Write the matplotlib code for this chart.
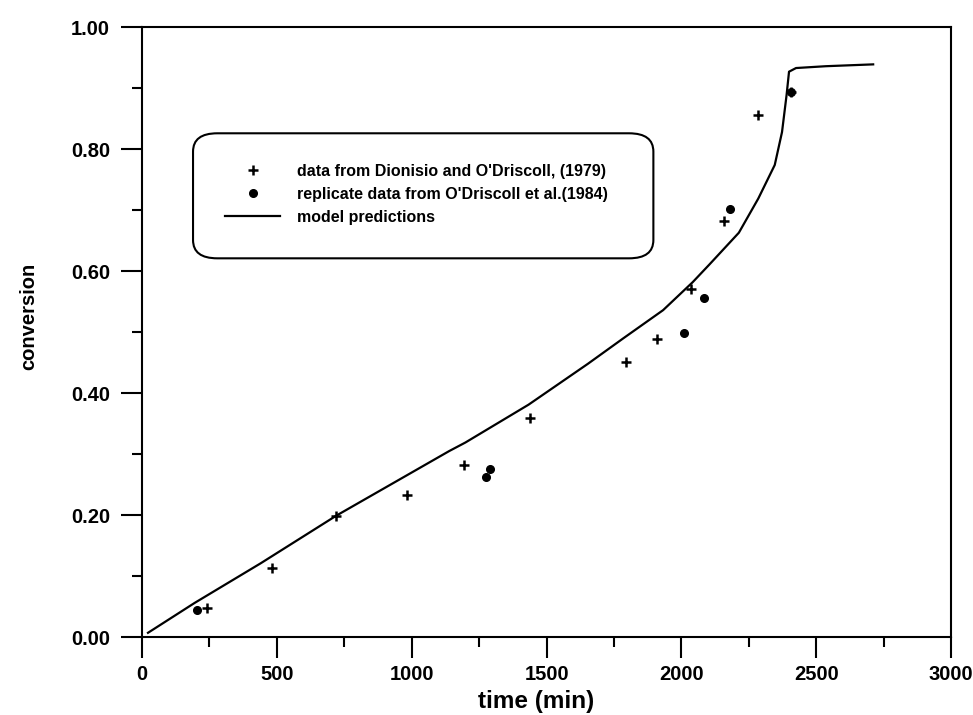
import numpy as np
import matplotlib
matplotlib.use("Agg")
import matplotlib.pyplot as plt
from matplotlib.patches import FancyBboxPatch
from matplotlib.ticker import MultipleLocator, FormatStrFormatter

plt.rcParams['font.family'] = ['Liberation Sans', 'DejaVu Sans']
plt.rcParams['font.weight'] = 'bold'

# data from Dionisio and O'Driscoll (1979)
dion_t = [240, 482, 720, 982, 1192, 1437, 1794, 1911, 2034, 2159, 2283, 2405]
dion_x = [0.048, 0.114, 0.198, 0.233, 0.282, 0.360, 0.451, 0.488, 0.571, 0.683, 0.856, 0.894]

# replicate data from O'Driscoll et al. (1984)
rep_t = [202, 1274, 1289, 2011, 2084, 2179, 2405]
rep_x = [0.044, 0.263, 0.276, 0.499, 0.556, 0.702, 0.894]

# model predictions
model_t = [22, 195, 440, 720, 1139, 1199, 1433, 1653, 1785, 1932, 2042, 2104,
           2213, 2285, 2346, 2373, 2390, 2399, 2425, 2536, 2711]
model_x = [0.007, 0.056, 0.121, 0.199, 0.305, 0.319, 0.381, 0.448, 0.490, 0.536,
           0.582, 0.611, 0.663, 0.719, 0.774, 0.828, 0.889, 0.927, 0.933, 0.936, 0.939]

fig = plt.figure(figsize=(9.73, 7.15), dpi=100)
ax = fig.add_axes([0.146, 0.109, 0.8315, 0.853])

ax.plot(model_t, model_x, color='black', lw=1.6, label='model predictions')
ax.plot(dion_t, dion_x, ls='none', marker='+', ms=7, mew=1.8, color='black',
        label="data from Dionisio and O'Driscoll, (1979)")
ax.plot(rep_t, rep_x, ls='none', marker='o', ms=5.5, color='black',
        label="replicate data from O'Driscoll et al.(1984)")

ax.set_xlim(0, 3000)
ax.set_ylim(0, 1.0)
ax.xaxis.set_major_locator(MultipleLocator(500))
ax.xaxis.set_minor_locator(MultipleLocator(250))
ax.yaxis.set_major_locator(MultipleLocator(0.2))
ax.yaxis.set_minor_locator(MultipleLocator(0.1))
ax.yaxis.set_major_formatter(FormatStrFormatter('%.2f'))
ax.tick_params(which='major', direction='out', length=15, width=1.5, labelsize=14.5, pad=8)
ax.tick_params(axis='x', which='major', pad=5)
ax.tick_params(which='minor', direction='out', length=7, width=1.5)
for lab in ax.get_xticklabels() + ax.get_yticklabels():
    lab.set_fontweight('bold')
for sp in ax.spines.values():
    sp.set_linewidth(1.5)

ax.set_xlabel('time (min)', fontsize=17.5, fontweight='bold')
ax.xaxis.set_label_coords(0.487, -0.087)
ax.set_ylabel('conversion', fontsize=14.5, fontweight='bold')
ax.yaxis.set_label_coords(-0.128, 0.526)

# rounded legend box
box = FancyBboxPatch((0.063, 0.621), 0.569, 0.205, boxstyle='round,pad=0,rounding_size=0.03',
                     transform=ax.transAxes, fc='white', ec='black', lw=1.5, zorder=3)
ax.add_patch(box)
handles, labels = ax.get_legend_handles_labels()
order = [1, 2, 0]
leg = ax.legend([handles[i] for i in order], [labels[i] for i in order],
                loc='upper left', bbox_to_anchor=(0.103, 0.776), frameon=False,
                borderpad=0, borderaxespad=0, handlelength=3.4, handletextpad=1.1,
                labelspacing=0.5, prop={'size': 11.5, 'weight': 'bold'})
leg.set_zorder(4)

fig.savefig('out.png', dpi=100)
